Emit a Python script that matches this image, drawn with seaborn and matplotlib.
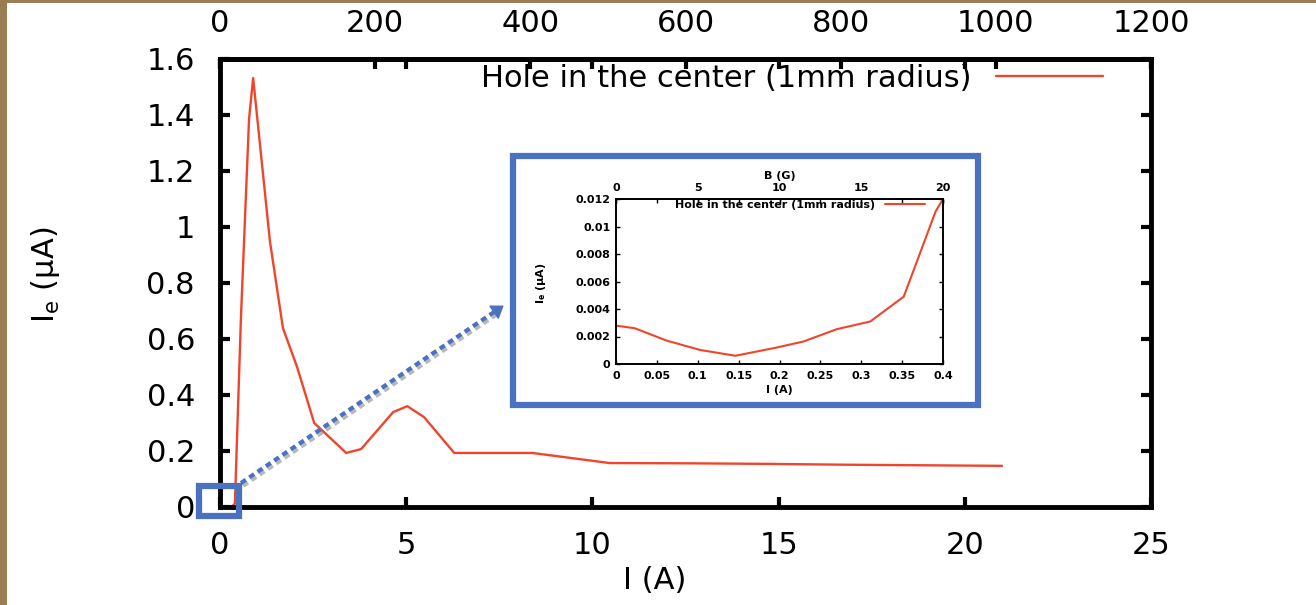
import matplotlib
matplotlib.use("Agg")
import matplotlib.pyplot as plt
import matplotlib.patches as mpatches
import matplotlib.patheffects as pe
from matplotlib.lines import Line2D
from matplotlib.ticker import FuncFormatter, FixedLocator
import pandas as pd
import seaborn as sns

# ---- data -------------------------------------------------------------
# fine scan, I <= 0.4 A
i_low = [0.0, 0.023, 0.062, 0.103, 0.146, 0.196, 0.229, 0.270, 0.311, 0.352, 0.391, 0.400]
ie_low = [0.00279, 0.00260, 0.00170, 0.00102, 0.00060, 0.00119, 0.00163,
          0.00253, 0.00309, 0.00490, 0.01110, 0.01200]

# coarse scan, I > 0.4 A
i_high = [0.565, 0.78, 0.89, 1.34, 1.69, 2.07, 2.53, 3.39, 3.79, 4.65, 5.03,
          5.48, 6.29, 8.39, 10.46, 12.6, 14.7, 16.8, 18.9, 21.0]
ie_high = [0.686, 1.386, 1.532, 0.95, 0.639, 0.50, 0.30, 0.193, 0.207, 0.339,
           0.360, 0.321, 0.193, 0.193, 0.157, 0.156, 0.154, 0.151, 0.149, 0.147]

series_label = "Hole in the center (1mm radius)"

x_ticks_main = [0, 5, 10, 15, 20, 25]
y_ticks_main = [0, 0.2, 0.4, 0.6, 0.8, 1.0, 1.2, 1.4, 1.6]
b_ticks_main = [0, 200, 400, 600, 800, 1000, 1200]

x_ticks_inset = [0, 0.05, 0.1, 0.15, 0.2, 0.25, 0.3, 0.35, 0.4]
y_ticks_inset = [0, 0.002, 0.004, 0.006, 0.008, 0.01, 0.012]
b_ticks_inset = [0, 5, 10, 15, 20]

G_PER_A_MAIN = 48.0   # top scale of the full-range plot
G_PER_A_INSET = 50.0  # top scale of the zoomed plot

df_main = pd.DataFrame({"I": i_low + i_high, "Ie": ie_low + ie_high})
df_low = pd.DataFrame({"I": i_low + i_high[:1], "Ie": ie_low + ie_high[:1]})

# ---- style ------------------------------------------------------------
sns.set_style("ticks")
plt.rcParams["font.family"] = ["DejaVu Sans"]
plt.rcParams["mathtext.fontset"] = "dejavusans"
plt.rcParams["text.color"] = "black"
plt.rcParams["axes.labelcolor"] = "black"
plt.rcParams["xtick.color"] = "black"
plt.rcParams["ytick.color"] = "black"

LINE_COLOR = "#f0452b"
BLUE = "#4a72c0"
W, H = 1316, 605

fig = plt.figure(figsize=(W / 100, H / 100), dpi=100)
fig.patch.set_facecolor("#9a7d52")


def fpx(x, y):
    """pixel position (origin top-left) -> figure fraction"""
    return x / W, 1 - y / H


# white slide area
fig.add_artist(mpatches.Rectangle(fpx(7, H), (W - 7) / W, (H - 3) / H,
                                  transform=fig.transFigure, facecolor="white",
                                  edgecolor="none", zorder=-10))

gfmt = FuncFormatter(lambda v, p: f"{v:g}")

# ---- main axes --------------------------------------------------------
ax = fig.add_axes([220 / W, 98 / H, 931 / W, 448 / H])
ax.set_zorder(1)
sns.lineplot(data=df_main, x="I", y="Ie", ax=ax, color=LINE_COLOR, lw=1.7,
             sort=False, estimator=None, label=series_label)
ax.set_xlim(0, 25)
ax.set_ylim(0, 1.6)
ax.xaxis.set_major_locator(FixedLocator(x_ticks_main))
ax.yaxis.set_major_locator(FixedLocator(y_ticks_main))
ax.xaxis.set_major_formatter(gfmt)
ax.yaxis.set_major_formatter(gfmt)
for s in ax.spines.values():
    s.set_visible(True)
    s.set_linewidth(3.5)
    s.set_color("black")
ax.tick_params(direction="in", length=7, width=3, labelsize=22, colors="black",
               top=True, right=True, labeltop=False, labelright=False)
ax.tick_params(axis="y", pad=18)
ax.tick_params(axis="x", pad=17)
ax.set_xlabel("I (A)", fontsize=22, color="black")
ax.set_ylabel("I$_{\\rm e}$ (\u03bcA)", fontsize=22, color="black")
ax.xaxis.set_label_coords((655 - 220) / 931, (507 - 566) / 448)
ax.yaxis.set_label_coords((62 - 220) / 931, (507 - 275) / 448)

sec = ax.secondary_xaxis("top", functions=(lambda x: x * G_PER_A_MAIN,
                                           lambda b: b / G_PER_A_MAIN))
sec.xaxis.set_major_locator(FixedLocator(b_ticks_main))
sec.xaxis.set_major_formatter(gfmt)
sec.tick_params(direction="in", length=7, width=3, labelsize=22, pad=15, colors="black")
sec.spines["top"].set_linewidth(3.5)

leg = ax.legend(loc="upper right", bbox_to_anchor=((1103 - 220) / 931, (507 - 64) / 448),
                frameon=False, markerfirst=False, fontsize=22, handlelength=3.5,
                handletextpad=0.8, borderaxespad=0, borderpad=0, labelcolor="black")

# ---- inset ------------------------------------------------------------
frame = mpatches.Rectangle(fpx(513, 405), 465 / W, 249 / H, transform=fig.transFigure,
                           facecolor="white", edgecolor=BLUE, lw=4.5, zorder=3,
                           path_effects=[pe.SimplePatchShadow(offset=(2, -2), alpha=0.3),
                                         pe.Normal()])
fig.add_artist(frame)

axi = fig.add_axes([616 / W, (H - 364) / H, 327 / W, 165 / H])
axi.set_zorder(5)
sns.lineplot(data=df_low, x="I", y="Ie", ax=axi, color=LINE_COLOR, lw=1.5,
             sort=False, estimator=None, label=series_label)
axi.set_xlim(0, 0.4)
axi.set_ylim(0, 0.012)
axi.xaxis.set_major_locator(FixedLocator(x_ticks_inset))
axi.yaxis.set_major_locator(FixedLocator(y_ticks_inset))
axi.xaxis.set_major_formatter(gfmt)
axi.yaxis.set_major_formatter(gfmt)
for s in axi.spines.values():
    s.set_visible(True)
    s.set_linewidth(1.4)
    s.set_color("black")
axi.tick_params(direction="in", length=3, width=1, labelsize=8, colors="black",
                top=True, right=True, labeltop=False, labelright=False)
axi.tick_params(axis="y", pad=4)
axi.tick_params(axis="x", pad=5)
for lab in axi.get_xticklabels() + axi.get_yticklabels():
    lab.set_fontweight("bold")
axi.set_xlabel("I (A)", fontsize=8, fontweight="bold")
axi.set_ylabel("I$_{\\bf e}$ (\u03bcA)", fontsize=8, fontweight="bold")
axi.xaxis.set_label_coords(0.5, (364 - 385) / 165)
axi.yaxis.set_label_coords((548 - 616) / 327, (364 - 283) / 165)

seci = axi.secondary_xaxis("top", functions=(lambda x: x * G_PER_A_INSET,
                                             lambda b: b / G_PER_A_INSET))
seci.xaxis.set_major_locator(FixedLocator(b_ticks_inset))
seci.xaxis.set_major_formatter(gfmt)
seci.tick_params(direction="in", length=3, width=1, labelsize=8, pad=4, colors="black")
for lab in seci.get_xticklabels():
    lab.set_fontweight("bold")
seci.spines["top"].set_linewidth(1.4)
seci.set_xlabel("B (G)", fontsize=8, fontweight="bold")
seci.xaxis.set_label_coords(*fpx(780, 179), transform=fig.transFigure)

axi.legend(loc="upper right", bbox_to_anchor=((925 - 616) / 327, (364 - 200) / 165),
           frameon=False, markerfirst=False, prop={"size": 8, "weight": "bold"},
           handlelength=3.6, handletextpad=0.9, borderaxespad=0, borderpad=0,
           labelcolor="black")

# ---- zoom marker and pointer -----------------------------------------
fig.add_artist(mpatches.Rectangle(fpx(199, 516), 40 / W, 30 / H, transform=fig.transFigure,
                                  facecolor="none", edgecolor=BLUE, lw=4.5, zorder=4))

x0, y0 = fpx(241, 483)
x1, y1 = fpx(497, 310)
pointer = Line2D([x0, x1], [y0, y1], transform=fig.transFigure, color=BLUE, lw=3,
                 linestyle=(0, (1.4, 1.0)), zorder=4,
                 path_effects=[pe.SimpleLineShadow(offset=(1.5, -2), shadow_color="0.45", alpha=0.5),
                               pe.Normal()])
fig.add_artist(pointer)
fig.add_artist(mpatches.FancyArrowPatch(fpx(490, 315), fpx(506, 304), transform=fig.transFigure,
                                        arrowstyle="-|>,head_length=5,head_width=3.5",
                                        color=BLUE, lw=1, zorder=4, mutation_scale=1.5))

fig.savefig("out.png", dpi=100)
